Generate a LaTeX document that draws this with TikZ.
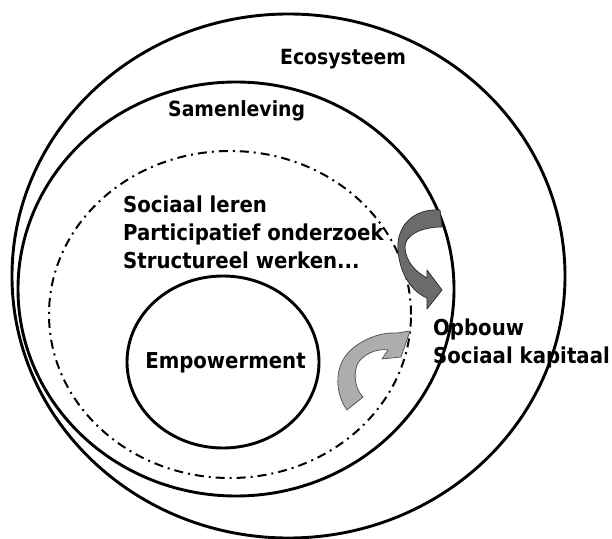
\documentclass[tikz,border=0pt]{standalone}
\usepackage{fontspec}
\setmainfont{DejaVu Sans}
\newfontfamily\lblfont[FakeStretch=0.9]{DejaVu Sans}
\usetikzlibrary{shapes.geometric}
\tikzset{
  ring/.style={ellipse, draw=black, line width=2.9bp, inner sep=0pt},
  dashring/.style={ellipse, draw=black, line width=2bp, inner sep=0pt,
    dash pattern=on 9bp off 5bp on 2bp off 5bp},
  lbl/.style={font=\lblfont\fontsize{22}{28}\selectfont\bfseries, inner sep=0pt, align=left, anchor=base west},
  darrow/.style={fill=black!58, draw=black!85, line width=0.7bp, line join=round},
  larrow/.style={fill=black!32, draw=black!70, line width=0.7bp, line join=round}
}
\begin{document}
\begin{tikzpicture}[x=1bp, y=-1bp]
\useasboundingbox (0,0) rectangle (612,539);
\node[ring, minimum width=553bp, minimum height=524bp] (eco) at (288.5,276) {};
\node[ring, minimum width=436bp, minimum height=414bp] (sam) at (236,289) {};
\node[dashring, minimum width=362bp, minimum height=327bp] (meth) at (230,314.5) {};
\node[ring, minimum width=192bp, minimum height=172bp] (emp) at (223,362) {};

\node[lbl, font=\lblfont\fontsize{21}{28}\selectfont\bfseries] (ecolbl) at (280,65) {Ecosysteem};
\node[lbl, font=\lblfont\fontsize{21}{28}\selectfont\bfseries] (samlbl) at (168,117) {Samenleving};
\node[lbl] (methlbl) at (123,268) {Sociaal leren\\Participatief onderzoek\\Structureel werken...};
\node[lbl, anchor=base] (emplbl) at (225.5,368) {Empowerment};
\node[lbl] (opb) at (433,363) {Opbouw\\Sociaal kapitaal};

% upper arrow
\draw[darrow] (440,210) .. controls (412,208) and (396,228) .. (398,250)
  .. controls (399,268) and (408,290) .. (427,298) -- (427,309) -- (442,290)
  -- (427,270) -- (427,278) .. controls (416,272) and (406,262) .. (405,248)
  .. controls (404,236) and (420,227) .. (442,227) -- cycle;
% lower arrow
\draw[larrow] (347,410) .. controls (334,392) and (334,364) .. (352,349)
  .. controls (366,337) and (384,332) .. (397,333) -- (410,331)
  -- (401,357) -- (382,359) -- (388,350)
  .. controls (378,348) and (362,354) .. (357,365)
  .. controls (353,377) and (356,390) .. (363,397) -- cycle;
\end{tikzpicture}
\end{document}
